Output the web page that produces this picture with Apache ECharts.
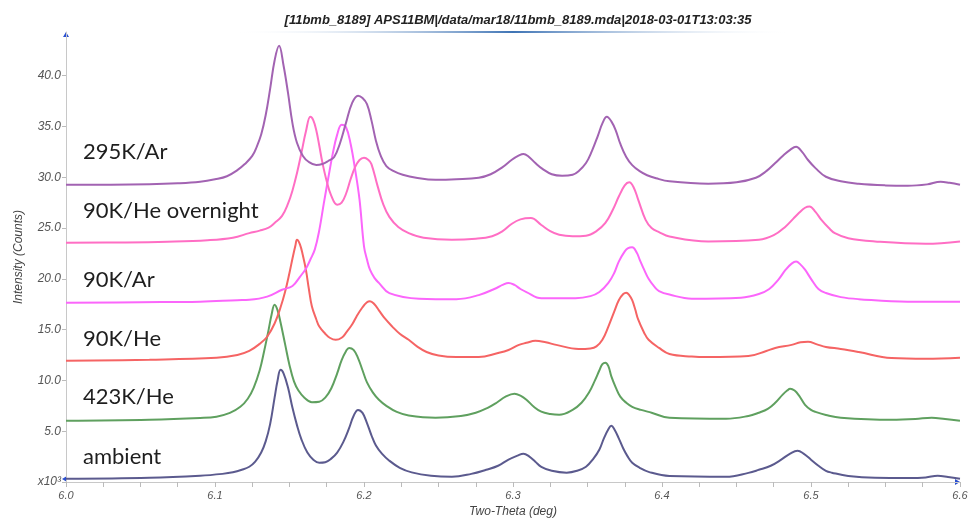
<!DOCTYPE html>
<html>
<head>
<meta charset="utf-8">
<script src="https://cdn.jsdelivr.net/npm/echarts@6/dist/echarts.min.js"></script>
<style>
html, body { margin: 0; padding: 0; background: #fff; }
#main { width: 969px; height: 521px; }
</style>
</head>
<body>
<div id="main"></div>
<script>
const titleText = '[11bmb_8189] APS11BM|/data/mar18/11bmb_8189.mda|2018-03-01T13:03:35'
const xName = 'Two-Theta (deg)'
const yName = 'Intensity (Counts)'
const seriesNames = ['ambient', '423K/He', '90K/He', '90K/Ar', '90K/He overnight', '295K/Ar']

// two-theta (deg), intensity (x10^3 counts)
const ambient = [
  [6.000,0.32],[6.056,0.42],[6.090,0.62],[6.105,0.80],[6.112,0.95],[6.118,1.20],[6.123,1.50],
  [6.127,2.00],[6.131,2.90],[6.134,4.00],[6.137,5.70],[6.140,8.30],[6.142,10.0],[6.144,11.05],
  [6.146,10.7],[6.149,9.30],[6.152,7.30],[6.155,5.60],[6.158,4.20],[6.162,2.90],[6.166,2.20],
  [6.170,1.90],[6.174,1.95],[6.178,2.30],[6.182,2.90],[6.186,3.90],[6.190,5.30],[6.193,6.50],
  [6.196,7.10],[6.199,6.80],[6.202,5.80],[6.205,4.60],[6.208,3.60],[6.212,2.80],[6.217,2.10],
  [6.224,1.40],[6.232,0.95],[6.245,0.62],[6.259,0.52],[6.272,0.80],[6.282,1.20],[6.290,1.60],
  [6.297,2.20],[6.303,2.60],[6.307,2.79],[6.311,2.50],[6.315,2.00],[6.319,1.50],[6.326,1.10],
  [6.336,0.92],[6.343,1.10],[6.349,1.50],[6.354,2.30],[6.358,3.20],[6.361,4.30],[6.364,5.20],
  [6.366,5.54],[6.368,5.20],[6.371,4.30],[6.374,3.30],[6.377,2.50],[6.380,1.90],[6.385,1.40],
  [6.391,1.00],[6.405,0.60],[6.443,0.52],[6.458,0.90],[6.465,1.20],[6.473,1.60],[6.480,2.20],
  [6.486,2.80],[6.491,3.08],[6.495,2.80],[6.500,2.20],[6.505,1.60],[6.510,1.10],[6.514,0.92],
  [6.525,0.60],[6.543,0.42],[6.565,0.40],[6.577,0.45],[6.585,0.62],[6.592,0.50],[6.600,0.32]
]
const k423He = [
  [6.000,6.03],[6.056,6.13],[6.090,6.30],[6.101,6.43],[6.110,6.80],[6.117,7.40],[6.122,8.20],
  [6.126,9.30],[6.130,11.0],[6.133,12.9],[6.136,15.0],[6.138,16.5],[6.140,17.45],[6.142,16.9],
  [6.144,15.7],[6.147,13.6],[6.150,11.5],[6.153,9.90],[6.156,9.00],[6.160,8.30],[6.165,7.85],
  [6.170,7.90],[6.174,8.30],[6.178,9.20],[6.182,10.7],[6.185,12.0],[6.188,12.9],[6.190,13.2],
  [6.193,13.0],[6.196,12.2],[6.199,11.0],[6.202,9.80],[6.206,8.80],[6.210,8.10],[6.215,7.50],
  [6.222,6.90],[6.230,6.55],[6.248,6.33],[6.265,6.50],[6.275,6.82],[6.283,7.30],[6.289,7.80],
  [6.295,8.40],[6.301,8.69],[6.305,8.50],[6.309,8.10],[6.314,7.40],[6.319,6.92],[6.325,6.70],
  [6.331,6.62],[6.340,7.10],[6.346,7.80],[6.351,8.80],[6.355,10.0],[6.358,11.0],[6.360,11.6],
  [6.362,11.75],[6.364,11.4],[6.366,10.4],[6.369,9.30],[6.372,8.40],[6.376,7.80],[6.380,7.40],
  [6.386,7.10],[6.393,6.82],[6.405,6.33],[6.443,6.23],[6.458,6.50],[6.465,6.82],[6.471,7.20],
  [6.476,7.80],[6.481,8.60],[6.484,9.00],[6.486,9.18],[6.489,9.00],[6.492,8.50],[6.496,7.60],
  [6.500,7.10],[6.503,6.90],[6.510,6.60],[6.520,6.33],[6.554,6.13],[6.570,6.20],[6.581,6.33],
  [6.590,6.20],[6.600,6.03]
]
const k90He = [
  [6.000,11.94],[6.056,12.04],[6.101,12.23],[6.115,12.5],[6.123,12.9],[6.130,13.6],[6.135,14.3],
  [6.140,15.6],[6.144,17.2],[6.147,18.7],[6.150,20.6],[6.152,22.0],[6.154,23.3],[6.155,23.85],
  [6.157,23.4],[6.159,22.3],[6.161,20.9],[6.163,19.0],[6.165,17.3],[6.168,16.0],[6.170,15.3],
  [6.174,14.6],[6.177,14.2],[6.181,14.0],[6.185,14.2],[6.188,14.7],[6.192,15.5],[6.195,16.3],
  [6.199,17.2],[6.202,17.7],[6.204,17.8],[6.207,17.5],[6.210,16.9],[6.214,16.1],[6.219,15.3],
  [6.224,14.6],[6.230,14.0],[6.236,13.3],[6.242,12.8],[6.250,12.45],[6.262,12.3],[6.277,12.3],
  [6.290,12.7],[6.297,13.0],[6.304,13.5],[6.309,13.7],[6.315,13.9],[6.322,13.75],[6.329,13.5],
  [6.344,13.1],[6.352,13.15],[6.356,13.35],[6.360,14.0],[6.364,15.3],[6.368,16.8],[6.371,17.9],
  [6.374,18.5],[6.376,18.63],[6.378,18.4],[6.380,17.9],[6.382,17.0],[6.384,16.0],[6.388,14.7],
  [6.391,14.0],[6.398,13.2],[6.405,12.6],[6.420,12.35],[6.431,12.3],[6.458,12.4],[6.470,12.9],
  [6.476,13.2],[6.487,13.5],[6.493,13.75],[6.498,13.8],[6.504,13.55],[6.510,13.3],[6.520,13.1],
  [6.532,12.8],[6.554,12.2],[6.577,12.13],[6.600,12.23]
]
const k90Ar = [
  [6.000,17.65],[6.050,17.70],[6.090,17.75],[6.115,17.90],[6.123,17.94],[6.135,18.25],[6.145,18.93],
  [6.152,19.30],[6.157,20.20],[6.161,21.00],[6.164,21.90],[6.167,22.90],[6.170,24.80],[6.173,27.40],
  [6.176,29.90],[6.179,32.30],[6.182,34.20],[6.185,35.17],[6.188,34.90],[6.191,33.30],[6.194,30.80],
  [6.197,27.80],[6.200,23.20],[6.202,21.90],[6.204,20.90],[6.207,20.10],[6.210,19.60],[6.217,18.60],
  [6.237,18.05],[6.262,18.00],[6.277,18.40],[6.289,19.10],[6.293,19.40],[6.297,19.60],[6.301,19.40],
  [6.305,19.00],[6.309,18.70],[6.319,18.10],[6.342,18.10],[6.352,18.30],[6.358,18.70],[6.364,19.60],
  [6.368,20.60],[6.371,21.70],[6.375,22.70],[6.377,23.00],[6.380,23.10],[6.383,22.60],[6.385,21.90],
  [6.388,20.90],[6.391,20.00],[6.395,19.20],[6.398,18.80],[6.405,18.45],[6.420,18.05],[6.453,18.15],
  [6.465,18.50],[6.472,19.00],[6.478,19.90],[6.483,20.90],[6.487,21.50],[6.490,21.70],[6.493,21.40],
  [6.496,20.90],[6.500,20.00],[6.505,19.00],[6.510,18.60],[6.520,18.20],[6.532,18.00],[6.565,17.75],
  [6.600,17.75]
]
const k90HeOvernight = [
  [6.000,23.55],[6.040,23.58],[6.068,23.65],[6.095,23.80],[6.112,24.05],[6.123,24.50],[6.130,24.75],
  [6.136,25.05],[6.140,25.50],[6.145,26.20],[6.149,27.40],[6.152,28.70],[6.155,30.40],[6.158,32.40],
  [6.161,34.50],[6.164,35.95],[6.166,35.60],[6.168,34.60],[6.170,33.10],[6.172,31.50],[6.175,29.60],
  [6.178,28.20],[6.182,27.30],[6.185,27.50],[6.188,28.40],[6.191,29.80],[6.194,31.00],[6.197,31.70],
  [6.200,31.92],[6.203,31.70],[6.205,31.30],[6.209,29.20],[6.213,27.30],[6.217,26.10],[6.223,25.10],
  [6.230,24.50],[6.240,24.05],[6.259,23.85],[6.275,23.95],[6.286,24.20],[6.293,24.70],[6.299,25.40],
  [6.305,25.85],[6.312,25.98],[6.319,25.30],[6.325,24.70],[6.331,24.34],[6.340,24.20],[6.349,24.25],
  [6.356,24.70],[6.362,25.50],[6.367,26.80],[6.371,28.10],[6.375,29.20],[6.378,29.50],[6.381,29.00],
  [6.384,27.80],[6.389,25.80],[6.393,25.00],[6.398,24.60],[6.405,24.17],[6.431,23.68],[6.465,23.85],
  [6.475,24.30],[6.483,25.16],[6.488,25.90],[6.492,26.50],[6.496,27.00],[6.499,27.13],[6.503,26.60],
  [6.507,25.80],[6.512,25.00],[6.516,24.50],[6.525,24.00],[6.543,23.68],[6.577,23.45],[6.600,23.68]
]
const k295Ar = [
  [6.000,29.26],[6.030,29.26],[6.056,29.30],[6.075,29.40],[6.090,29.56],[6.100,29.80],[6.108,30.10],
  [6.115,30.70],[6.120,31.30],[6.125,32.10],[6.128,33.00],[6.131,34.20],[6.134,36.10],[6.137,38.70],
  [6.140,41.50],[6.143,42.94],[6.146,41.00],[6.149,38.30],[6.152,35.30],[6.155,33.40],[6.159,32.10],
  [6.163,31.50],[6.168,31.20],[6.172,31.30],[6.176,31.60],[6.180,32.00],[6.184,33.40],[6.188,35.40],
  [6.192,37.30],[6.196,38.02],[6.199,37.80],[6.202,37.20],[6.205,35.60],[6.208,33.60],[6.211,32.20],
  [6.215,31.10],[6.220,30.60],[6.226,30.25],[6.235,29.95],[6.248,29.75],[6.262,29.80],[6.277,29.95],
  [6.285,30.30],[6.293,31.00],[6.299,31.70],[6.304,32.15],[6.307,32.30],[6.310,32.10],[6.315,31.40],
  [6.320,30.80],[6.326,30.30],[6.333,30.15],[6.340,30.25],[6.344,30.60],[6.349,31.40],[6.353,32.60],
  [6.357,34.10],[6.360,35.30],[6.363,35.95],[6.366,35.50],[6.369,34.60],[6.372,33.30],[6.376,32.00],
  [6.380,31.20],[6.385,30.60],[6.390,30.20],[6.396,29.90],[6.405,29.60],[6.431,29.36],[6.450,29.50],
  [6.463,29.95],[6.470,30.60],[6.476,31.40],[6.481,32.10],[6.486,32.70],[6.490,33.00],[6.494,32.50],
  [6.498,31.70],[6.503,30.90],[6.510,30.05],[6.520,29.60],[6.532,29.36],[6.550,29.20],[6.565,29.16],
  [6.578,29.30],[6.587,29.56],[6.593,29.45],[6.600,29.26]
]

const allData = [ambient, k423He, k90He, k90Ar, k90HeOvernight, k295Ar]
const colors = ['#5b5a8e', '#5fa05f', '#f56464', '#fb66fb', '#ff6ec4', '#a263b2']
// label centre heights in px, same order as seriesNames
const labelY = [457, 397, 339, 280, 211, 152]

let myChart = echarts.init(document.getElementById('main'))

let series = allData.map((d, i) => ({
  name: seriesNames[i],
  type: 'line',
  data: d,
  smooth: 0.4,
  showSymbol: false,
  lineStyle: { color: colors[i], width: 2 },
  itemStyle: { color: colors[i] },
  z: 3 + i
}))

let option = {
  animation: false,
  backgroundColor: '#fff',
  title: {
    text: titleText,
    left: 513,
    textAlign: 'center',
    top: 9,
    textStyle: {
      fontFamily: 'Liberation Sans',
      fontSize: 13,
      fontStyle: 'italic',
      fontWeight: 'bold',
      color: '#222'
    }
  },
  grid: { left: 66, right: 9, top: 32, bottom: 39, containLabel: false, outerBoundsMode: 'none' },
  xAxis: {
    type: 'value',
    min: 6.0,
    max: 6.6,
    interval: 0.1,
    name: xName,
    nameLocation: 'middle',
    nameGap: 23,
    nameTextStyle: { fontFamily: 'Liberation Sans', fontStyle: 'italic', fontSize: 12, color: '#444' },
    axisLine: { show: true, onZero: false, lineStyle: { color: '#c8c8c8', width: 1 } },
    axisTick: { show: true, length: 5, lineStyle: { color: '#bbb' } },
    minorTick: { show: true, splitNumber: 4, length: 5, lineStyle: { color: '#bbb' } },
    axisLabel: {
      margin: 8,
      fontFamily: 'Liberation Sans',
      fontStyle: 'italic',
      fontSize: 11,
      color: '#555',
      formatter: v => v.toFixed(1)
    },
    splitLine: { show: false }
  },
  yAxis: {
    type: 'value',
    min: 0,
    max: 44.3,
    interval: 5,
    name: yName,
    nameLocation: 'middle',
    nameGap: 41,
    nameTextStyle: { fontFamily: 'Liberation Sans', fontStyle: 'italic', fontSize: 12, color: '#444' },
    axisLine: { show: true, lineStyle: { color: '#c8c8c8', width: 1 } },
    axisTick: { show: true, length: 4, lineStyle: { color: '#bbb' } },
    axisLabel: {
      margin: 5,
      fontFamily: 'Liberation Sans',
      fontStyle: 'italic',
      fontSize: 12,
      color: '#555',
      showMaxLabel: false,
      formatter: v => v === 0 ? 'x10³' : v.toFixed(1)
    },
    splitLine: { show: false }
  },
  series: series
}
myChart.setOption(option)

// decorations: title underline, axis arrows, curve labels
let o = myChart.convertToPixel({ gridIndex: 0 }, [6.0, 0])
let xe = myChart.convertToPixel({ gridIndex: 0 }, [6.6, 0])
let ye = myChart.convertToPixel({ gridIndex: 0 }, [6.0, 44.3])
let graphic = [
  {
    type: 'rect',
    shape: { x: 233, y: 31, width: 560, height: 2 },
    style: {
      fill: new echarts.graphic.LinearGradient(0, 0, 1, 0, [
        { offset: 0, color: 'rgba(255,255,255,0)' },
        { offset: 0.5, color: '#3f74b5' },
        { offset: 1, color: 'rgba(255,255,255,0)' }
      ])
    },
    silent: true
  },
  {
    type: 'polygon',
    shape: { points: [[ye[0] - 3, ye[1] + 5], [ye[0] + 3, ye[1] + 5], [ye[0], ye[1]]] },
    style: { fill: '#2a4fd0' }, silent: true
  },
  {
    type: 'polygon',
    shape: { points: [[xe[0] - 5, xe[1] - 3], [xe[0] - 5, xe[1] + 3], [xe[0], xe[1]]] },
    style: { fill: '#2a4fd0' }, silent: true
  },
  {
    type: 'polygon',
    shape: { points: [[o[0] + 1, o[1] - 6], [o[0] + 1, o[1]], [o[0] - 4, o[1] - 3]] },
    style: { fill: '#2a4fd0' }, silent: true
  }
]
seriesNames.forEach((n, i) => {
  graphic.push({
    type: 'text',
    x: 83,
    y: labelY[i],
    style: {
      text: n,
      font: '22px Lato',
      fill: '#1e1e1e',
      textVerticalAlign: 'middle'
    },
    silent: true
  })
})
myChart.setOption({ graphic: graphic })
</script>
</body>
</html>
